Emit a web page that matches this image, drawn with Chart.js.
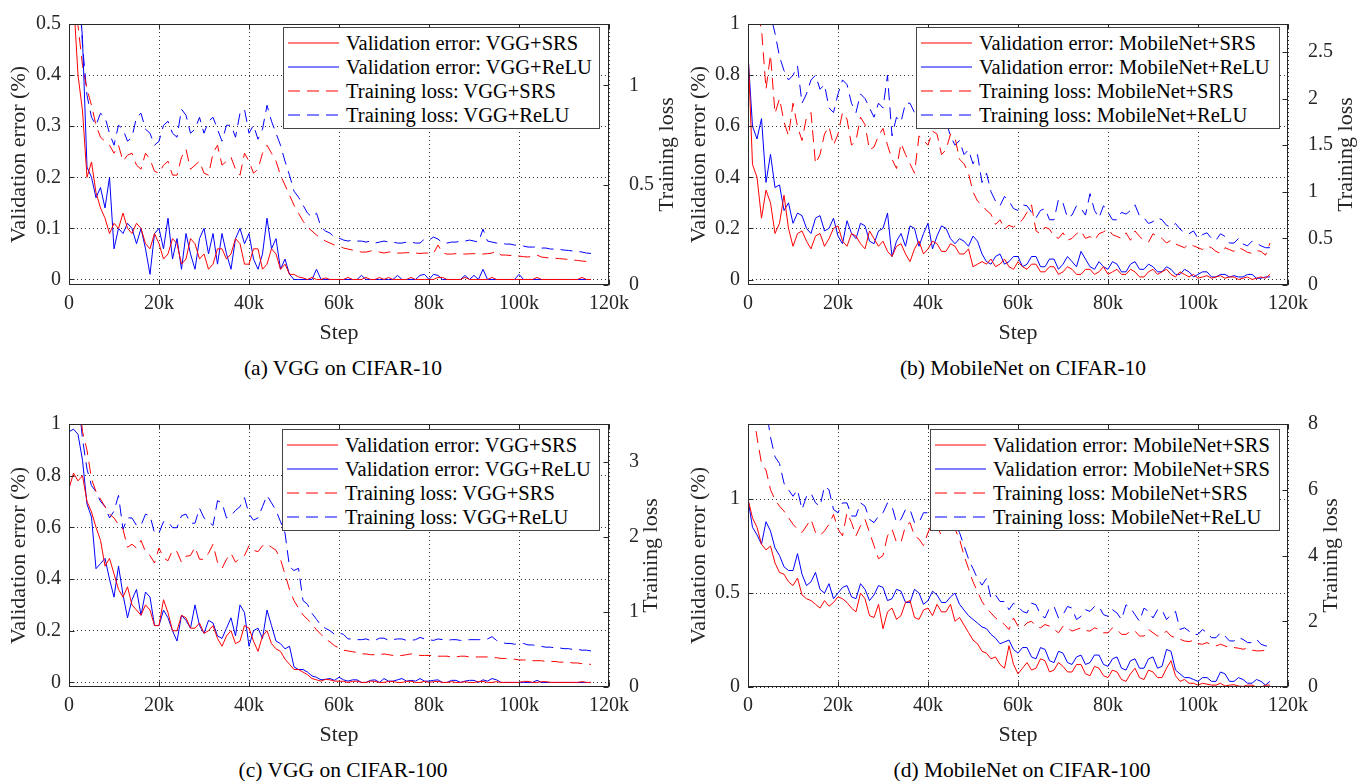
<!DOCTYPE html>
<html>
<head>
<meta charset="utf-8">
<title>Validation error and training loss: SRS vs ReLU</title>
<script src="https://cdn.jsdelivr.net/npm/chart.js@4.4.1/dist/chart.umd.min.js"></script>
<style>
  body { margin: 0; background: #fff; overflow: hidden; }
  #page { position: relative; width: 1359px; height: 781px; overflow: hidden;
          font-family: "Liberation Serif", "Times New Roman", serif; color: #000; }
  .panel { position: absolute; }
  .legend { position: absolute; background: #fff; border: 1px solid #444; box-sizing: border-box; padding-top: 3px; }
  .legend-row { height: 24px; display: flex; align-items: center; font-size: 20.5px; white-space: nowrap; }
  .legend-row svg { margin-left: 4px; margin-right: 7px; flex: none; }
  .caption { position: absolute; transform: translateX(-50%); font-size: 21.5px; line-height: 24px; white-space: nowrap; }
</style>
</head>
<body>
<div id="page">
  <canvas id="chartA" class="panel" width="680" height="350" style="left:0;top:0"></canvas>
  <canvas id="chartB" class="panel" width="679" height="350" style="left:680px;top:0"></canvas>
  <canvas id="chartC" class="panel" width="680" height="350" style="left:0;top:400px"></canvas>
  <canvas id="chartD" class="panel" width="679" height="350" style="left:680px;top:400px"></canvas>
  <div class="caption" style="left:343px;top:356px">(a) VGG on CIFAR-10</div>
  <div class="caption" style="left:1023px;top:356px">(b) MobileNet on CIFAR-10</div>
  <div class="caption" style="left:343px;top:758px">(c) VGG on CIFAR-100</div>
  <div class="caption" style="left:1022px;top:758px">(d) MobileNet on CIFAR-100</div>
</div>
<script>
// training step (thousands) shared by every curve
const steps = [
  0, 1, 2, 3, 4, 5, 6, 7, 8, 9,
  10, 11, 12, 13, 14, 15, 16, 17, 18, 19,
  20, 21, 22, 23, 24, 25, 26, 27, 28, 29,
  30, 31, 32, 33, 34, 35, 36, 37, 38, 39,
  40, 41, 42, 43, 44, 45, 46, 47, 48, 49,
  50, 51, 52, 53, 54, 55, 56, 57, 58, 59,
  60, 61, 62, 63, 64, 65, 66, 67, 68, 69,
  70, 71, 72, 73, 74, 75, 76, 77, 78, 79,
  80, 81, 82, 83, 84, 85, 86, 87, 88, 89,
  90, 91, 92, 93, 94, 95, 96, 97, 98, 99,
  100, 101, 102, 103, 104, 105, 106, 107, 108, 109,
  110, 111, 112, 113, 114, 115, 116
];
const stepTicks = [0, 20, 40, 60, 80, 100, 120];

// (a) VGG on CIFAR-10
const vggC10ValSRS = [
  0.65, 0.55, 0.40, 0.33, 0.20, 0.23, 0.17, 0.14, 0.12, 0.09,
  0.11, 0.10, 0.13, 0.10, 0.09, 0.11, 0.10, 0.07, 0.06, 0.09,
  0.07, 0.04, 0.05, 0.08, 0.07, 0.03, 0.04, 0.08, 0.07, 0.04,
  0.05, 0.02, 0.03, 0.06, 0.06, 0.04, 0.05, 0.08, 0.07, 0.03,
  0.03, 0.06, 0.06, 0.02, 0.03, 0.06, 0.05, 0.02, 0.03, 0.01,
  0.01, 0.005, 0.003, 0, 0.004, 0, 0, 0.003, 0, 0,
  0, 0, 0.004, 0, 0, 0, 0.004, 0, 0, 0.004,
  0, 0.004, 0, 0, 0, 0, 0.004, 0, 0, 0,
  0, 0, 0.004, 0.004, 0, 0, 0, 0, 0.004, 0,
  0, 0, 0, 0, 0.004, 0, 0, 0, 0, 0,
  0, 0, 0, 0, 0.004, 0, 0, 0, 0, 0,
  0, 0, 0, 0, 0.004, 0, 0
];
const vggC10ValReLU = [
  0.9, 0.75, 0.60, 0.47, 0.22, 0.20, 0.16, 0.18, 0.14, 0.20,
  0.06, 0.10, 0.09, 0.11, 0.10, 0.07, 0.10, 0.06, 0.01, 0.09,
  0.10, 0.06, 0.12, 0.04, 0.08, 0.02, 0.09, 0.05, 0.02, 0.08,
  0.10, 0.05, 0.09, 0.03, 0.09, 0.05, 0.02, 0.08, 0.10, 0.07,
  0.09, 0.04, 0.02, 0.05, 0.12, 0.06, 0.08, 0.02, 0.04, 0.01,
  0, 0, 0, 0, 0, 0.02, 0, 0, 0, 0,
  0, 0, 0, 0, 0, 0.008, 0, 0, 0, 0,
  0, 0, 0, 0.008, 0, 0, 0, 0, 0.008, 0.01,
  0, 0.01, 0.008, 0, 0, 0, 0, 0, 0.008, 0,
  0.008, 0, 0.02, 0, 0, 0, 0, 0, 0, 0,
  0.01, 0, 0, 0, 0, 0, 0, 0, 0, 0,
  0, 0, 0, 0, 0, 0, 0
];
const vggC10LossSRS = [
  2.0, 1.6, 1.3, 1.1, 0.98, 0.90, 0.80, 0.74, 0.72, 0.70,
  0.66, 0.70, 0.62, 0.65, 0.66, 0.60, 0.58, 0.66, 0.63, 0.57,
  0.56, 0.60, 0.62, 0.55, 0.55, 0.64, 0.68, 0.58, 0.60, 0.62,
  0.56, 0.55, 0.66, 0.70, 0.60, 0.62, 0.64, 0.58, 0.55, 0.66,
  0.62, 0.56, 0.58, 0.66, 0.70, 0.66, 0.62, 0.55, 0.50, 0.45,
  0.40, 0.36, 0.32, 0.29, 0.27, 0.25, 0.235, 0.22, 0.21, 0.20,
  0.195, 0.185, 0.18, 0.175, 0.17, 0.165, 0.165, 0.17, 0.17, 0.165,
  0.16, 0.165, 0.165, 0.16, 0.16, 0.162, 0.162, 0.16, 0.158, 0.16,
  0.16, 0.158, 0.20, 0.16, 0.155, 0.155, 0.157, 0.156, 0.155, 0.156,
  0.157, 0.155, 0.155, 0.157, 0.16, 0.17, 0.15, 0.15, 0.148, 0.146,
  0.145, 0.142, 0.14, 0.145, 0.15, 0.14, 0.137, 0.135, 0.134, 0.132,
  0.13, 0.128, 0.125, 0.123, 0.12, 0.118, 0.115
];
const vggC10LossReLU = [
  2.2, 1.9, 1.6, 1.2, 0.95, 0.84, 0.80, 0.86, 0.84, 0.76,
  0.70, 0.80, 0.78, 0.72, 0.74, 0.84, 0.86, 0.78, 0.76, 0.70,
  0.72, 0.80, 0.82, 0.76, 0.74, 0.88, 0.85, 0.76, 0.78, 0.84,
  0.76, 0.82, 0.84, 0.78, 0.72, 0.80, 0.80, 0.74, 0.86, 0.88,
  0.76, 0.80, 0.73, 0.78, 0.90, 0.82, 0.76, 0.70, 0.62, 0.55,
  0.47, 0.44, 0.40, 0.36, 0.34, 0.36, 0.29, 0.27, 0.26, 0.24,
  0.235, 0.225, 0.22, 0.225, 0.22, 0.22, 0.215, 0.22, 0.21, 0.215,
  0.22, 0.215, 0.215, 0.21, 0.21, 0.215, 0.215, 0.21, 0.21, 0.23,
  0.225, 0.24, 0.23, 0.21, 0.21, 0.215, 0.215, 0.22, 0.22, 0.225,
  0.22, 0.215, 0.28, 0.22, 0.215, 0.21, 0.21, 0.205, 0.205, 0.2,
  0.2, 0.195, 0.19, 0.19, 0.19, 0.185, 0.185, 0.18, 0.18, 0.178,
  0.175, 0.173, 0.17, 0.168, 0.165, 0.16, 0.158
];

// (b) MobileNet on CIFAR-10
const mbC10ValSRS = [
  0.90, 0.45, 0.40, 0.24, 0.35, 0.30, 0.18, 0.22, 0.33, 0.20,
  0.13, 0.18, 0.19, 0.15, 0.12, 0.17, 0.18, 0.13, 0.16, 0.20,
  0.21, 0.15, 0.13, 0.18, 0.17, 0.14, 0.12, 0.19, 0.16, 0.13,
  0.15, 0.11, 0.09, 0.13, 0.14, 0.10, 0.07, 0.12, 0.15, 0.10,
  0.12, 0.15, 0.14, 0.11, 0.11, 0.14, 0.13, 0.10, 0.10, 0.12,
  0.05, 0.06, 0.07, 0.06, 0.08, 0.05, 0.06, 0.08, 0.05, 0.04,
  0.07, 0.05, 0.04, 0.06, 0.06, 0.03, 0.03, 0.05, 0.05, 0.02,
  0.03, 0.05, 0.04, 0.02, 0.02, 0.04, 0.04, 0.02, 0.03, 0.05,
  0.02, 0.03, 0.04, 0.02, 0.02, 0.04, 0.03, 0.01, 0.01, 0.03,
  0.04, 0.02, 0.03, 0.04, 0.02, 0.01, 0.03, 0.02, 0.01, 0.02,
  0.005, 0.01, 0.015, 0.005, 0.01, 0.015, 0.005, 0.01, 0.01, 0,
  0.005, 0.01, 0, 0.005, 0.01, 0.005, 0.02
];
const mbC10ValReLU = [
  0.88, 0.60, 0.55, 0.63, 0.38, 0.49, 0.36, 0.37, 0.27, 0.30,
  0.22, 0.26, 0.25, 0.20, 0.18, 0.24, 0.25, 0.19, 0.20, 0.24,
  0.17, 0.14, 0.23, 0.18, 0.16, 0.22, 0.21, 0.15, 0.14, 0.19,
  0.20, 0.26, 0.09, 0.15, 0.18, 0.13, 0.21, 0.20, 0.13, 0.18,
  0.22, 0.12, 0.17, 0.21, 0.20, 0.16, 0.14, 0.16, 0.15, 0.13,
  0.17, 0.15, 0.10, 0.07, 0.06, 0.09, 0.10, 0.06, 0.07, 0.09,
  0.09, 0.05, 0.06, 0.09, 0.09, 0.05, 0.05, 0.08, 0.08, 0.04,
  0.06, 0.09, 0.07, 0.05, 0.11, 0.08, 0.05, 0.04, 0.07, 0.05,
  0.04, 0.07, 0.06, 0.03, 0.03, 0.06, 0.07, 0.04, 0.04, 0.06,
  0.05, 0.03, 0.03, 0.05, 0.04, 0.02, 0.02, 0.04, 0.03, 0.01,
  0.02, 0.03, 0.03, 0.01, 0.01, 0.02, 0.02, 0.01, 0.015, 0.01,
  0.01, 0.02, 0.02, 0.005, 0.005, 0.01, 0.01
];
const mbC10LossSRS = [
  3.5, 3.2, 2.9, 2.75, 2.1, 2.47, 1.84, 2.0, 1.75, 1.6,
  1.95, 1.7, 1.55, 1.8, 1.85, 1.3, 1.40, 1.62, 1.70, 1.50,
  1.62, 1.85, 1.78, 1.50, 1.55, 1.80, 1.72, 1.45, 1.48, 1.60,
  1.68, 1.50, 1.35, 1.25, 1.52, 1.40, 1.30, 1.20, 1.60, 1.55,
  1.50, 1.65, 1.62, 1.40, 1.45, 1.62, 1.58, 1.35, 1.30, 1.20,
  1.00, 0.90, 0.86, 0.80, 0.76, 0.65, 0.70, 0.60, 0.64, 0.62,
  0.66, 0.70, 0.78, 0.86, 0.58, 0.55, 0.62, 0.60, 0.52, 0.50,
  0.56, 0.48, 0.50, 0.55, 0.58, 0.50, 0.52, 0.48, 0.55, 0.57,
  0.60, 0.54, 0.52, 0.50, 0.56, 0.48, 0.58, 0.52, 0.48, 0.46,
  0.55, 0.52, 0.50, 0.45, 0.48, 0.44, 0.42, 0.40, 0.44, 0.42,
  0.40, 0.38, 0.42, 0.40, 0.36, 0.34, 0.40, 0.38, 0.36, 0.40,
  0.38, 0.35, 0.34, 0.37, 0.36, 0.32, 0.45
];
const mbC10LossReLU = [
  4.0, 3.8, 3.5, 3.3, 3.0, 2.9, 2.7, 2.45, 2.30, 2.20,
  2.25, 2.35, 1.95, 2.05, 2.20, 2.25, 2.10, 2.15, 1.90, 1.85,
  2.05, 2.20, 2.15, 1.95, 1.85, 2.05, 2.00, 1.90, 1.80, 1.95,
  1.90, 2.25, 1.60, 1.80, 1.75, 1.95, 1.95, 1.85, 1.80, 2.00,
  1.90, 1.80, 1.70, 1.85, 1.75, 1.60, 1.50, 1.55, 1.40, 1.45,
  1.30, 1.40, 1.10, 1.20, 1.00, 0.90, 0.85, 0.95, 0.90, 0.82,
  0.80, 0.86, 0.85, 0.78, 0.72, 0.80, 0.82, 0.70, 0.70, 0.92,
  0.88, 0.72, 0.75, 0.85, 0.82, 0.75, 0.98, 0.80, 0.72, 0.85,
  0.78, 0.70, 0.70, 0.78, 0.76, 0.80, 0.86, 0.74, 0.72, 0.66,
  0.68, 0.72, 0.70, 0.64, 0.62, 0.66, 0.60, 0.56, 0.55, 0.58,
  0.50, 0.54, 0.56, 0.50, 0.48, 0.55, 0.52, 0.45, 0.45, 0.50,
  0.44, 0.42, 0.47, 0.45, 0.42, 0.40, 0.40
];

// (c) VGG on CIFAR-100
const vggC100ValSRS = [
  0.75, 0.81, 0.78, 0.80, 0.70, 0.66, 0.60, 0.55, 0.45, 0.48,
  0.42, 0.36, 0.33, 0.37, 0.30, 0.28, 0.26, 0.30, 0.28, 0.22,
  0.22, 0.32, 0.27, 0.20, 0.20, 0.26, 0.25, 0.21, 0.21, 0.23,
  0.19, 0.20, 0.22, 0.17, 0.14, 0.18, 0.20, 0.15, 0.16, 0.22,
  0.21, 0.16, 0.12, 0.18, 0.20, 0.15, 0.13, 0.12, 0.09, 0.07,
  0.05, 0.05, 0.04, 0.03, 0.015, 0.01, 0.005, 0.012, 0.01, 0.005,
  0.005, 0.004, 0, 0.004, 0.005, 0, 0, 0.005, 0.004, 0,
  0, 0.004, 0.004, 0, 0, 0.004, 0.005, 0, 0, 0.004,
  0, 0.003, 0.004, 0, 0, 0.003, 0, 0, 0.003, 0,
  0, 0.003, 0.004, 0, 0, 0.003, 0, 0, 0, 0,
  0, 0.004, 0.004, 0, 0, 0.003, 0.003, 0, 0, 0,
  0, 0, 0, 0, 0.003, 0, 0
];
const vggC100ValReLU = [
  0.97, 0.98, 0.96, 0.86, 0.69, 0.64, 0.44, 0.46, 0.48, 0.40,
  0.33, 0.45, 0.34, 0.25, 0.32, 0.36, 0.26, 0.35, 0.33, 0.22,
  0.22, 0.28, 0.25, 0.20, 0.16, 0.26, 0.24, 0.21, 0.30, 0.22,
  0.19, 0.24, 0.23, 0.18, 0.17, 0.21, 0.25, 0.18, 0.30, 0.27,
  0.14, 0.20, 0.21, 0.17, 0.28, 0.22, 0.16, 0.15, 0.13, 0.14,
  0.06, 0.05, 0.05, 0.04, 0.025, 0.02, 0.01, 0.012, 0.015, 0.008,
  0.02, 0.01, 0.005, 0.01, 0.01, 0, 0, 0.008, 0.01, 0,
  0.015, 0.005, 0.005, 0.01, 0.015, 0.005, 0.008, 0.005, 0.015, 0.005,
  0.005, 0.008, 0.01, 0, 0, 0.008, 0.008, 0, 0.005, 0.008,
  0.008, 0, 0.01, 0.005, 0.015, 0.01, 0, 0, 0, 0,
  0, 0, 0, 0, 0.008, 0, 0, 0, 0, 0,
  0, 0, 0, 0, 0, 0, 0
];
const vggC100LossSRS = [
  5.0, 4.5, 4.0, 3.4, 3.15, 2.77, 2.6, 2.5, 2.40, 2.30,
  2.25, 2.16, 2.10, 1.86, 1.90, 1.85, 1.95, 1.80, 1.75, 1.65,
  1.85, 1.72, 1.68, 1.82, 1.80, 1.66, 1.74, 1.75, 1.86, 1.70,
  1.70, 1.78, 1.90, 1.66, 1.58, 1.70, 1.78, 1.66, 1.72, 1.75,
  1.88, 1.82, 1.80, 1.88, 1.90, 1.86, 1.82, 1.70, 1.50, 1.30,
  1.15, 1.05, 0.96, 0.90, 0.84, 0.76, 0.70, 0.64, 0.60, 0.55,
  0.52, 0.49, 0.48, 0.47, 0.46, 0.44, 0.44, 0.43, 0.43, 0.43,
  0.44, 0.43, 0.42, 0.42, 0.42, 0.43, 0.44, 0.43, 0.42, 0.42,
  0.42, 0.42, 0.41, 0.41, 0.41, 0.40, 0.40, 0.41, 0.41, 0.40,
  0.40, 0.40, 0.40, 0.40, 0.39, 0.39, 0.38, 0.38, 0.37, 0.37,
  0.36, 0.36, 0.36, 0.35, 0.35, 0.35, 0.34, 0.34, 0.34, 0.33,
  0.33, 0.33, 0.32, 0.32, 0.31, 0.31, 0.30
];
const vggC100LossReLU = [
  5.0, 4.5, 3.9, 3.3, 2.9, 2.68, 2.60, 2.47, 2.40, 2.25,
  2.34, 2.55, 2.10, 2.25, 2.25, 2.15, 2.15, 2.30, 2.28, 2.05,
  2.05, 2.20, 2.20, 2.12, 2.12, 2.28, 2.30, 2.18, 2.18, 2.38,
  2.25, 2.20, 2.15, 2.48, 2.45, 2.25, 2.28, 2.35, 2.40, 2.52,
  2.30, 2.22, 2.25, 2.40, 2.55, 2.45, 2.35, 2.20, 2.05, 1.60,
  1.55, 1.58, 1.15, 1.10, 0.98, 0.90, 0.82, 0.78, 0.75, 0.70,
  0.72, 0.70, 0.64, 0.64, 0.63, 0.63, 0.64, 0.62, 0.62, 0.65,
  0.65, 0.62, 0.63, 0.64, 0.64, 0.62, 0.62, 0.63, 0.66, 0.64,
  0.63, 0.62, 0.64, 0.63, 0.62, 0.63, 0.63, 0.62, 0.62, 0.63,
  0.63, 0.63, 0.63, 0.64, 0.67, 0.62, 0.60, 0.58, 0.58, 0.57,
  0.57, 0.58, 0.56, 0.56, 0.55, 0.54, 0.53, 0.53, 0.52, 0.52,
  0.51, 0.51, 0.50, 0.50, 0.49, 0.49, 0.48
];

// (d) MobileNet on CIFAR-100
const mbC100ValSRS = [
  1.0, 0.90, 0.85, 0.76, 0.73, 0.75, 0.66, 0.61, 0.60, 0.56,
  0.54, 0.58, 0.49, 0.47, 0.46, 0.44, 0.42, 0.46, 0.43, 0.45,
  0.48, 0.47, 0.45, 0.42, 0.40, 0.50, 0.47, 0.38, 0.37, 0.44,
  0.31, 0.40, 0.42, 0.36, 0.38, 0.45, 0.46, 0.37, 0.36, 0.41,
  0.42, 0.38, 0.44, 0.40, 0.40, 0.44, 0.35, 0.37, 0.33, 0.29,
  0.25, 0.23, 0.19, 0.18, 0.15, 0.16, 0.12, 0.10, 0.22, 0.12,
  0.07, 0.10, 0.13, 0.09, 0.10, 0.15, 0.14, 0.08, 0.09, 0.13,
  0.11, 0.08, 0.08, 0.12, 0.12, 0.07, 0.06, 0.11, 0.10, 0.06,
  0.05, 0.09, 0.08, 0.04, 0.03, 0.07, 0.10, 0.05, 0.04, 0.09,
  0.08, 0.05, 0.05, 0.10, 0.14, 0.06, 0.03, 0.04, 0.02, 0.02,
  0.01, 0.02, 0.015, 0.01, 0.01, 0.02, 0.005, 0.01, 0.012, 0.005,
  0.003, 0.01, 0.01, 0, 0, 0.01, 0.01
];
const mbC100ValReLU = [
  1.0, 0.85, 0.81, 0.76, 0.88, 0.83, 0.74, 0.70, 0.64, 0.62,
  0.62, 0.71, 0.60, 0.54, 0.56, 0.61, 0.52, 0.50, 0.55, 0.47,
  0.50, 0.53, 0.54, 0.48, 0.47, 0.55, 0.52, 0.46, 0.49, 0.54,
  0.53, 0.46, 0.47, 0.52, 0.51, 0.45, 0.45, 0.52, 0.50, 0.44,
  0.46, 0.51, 0.49, 0.45, 0.45, 0.48, 0.50, 0.44, 0.41, 0.38,
  0.36, 0.34, 0.32, 0.31, 0.28, 0.26, 0.23, 0.24, 0.25, 0.20,
  0.18, 0.21, 0.21, 0.16, 0.15, 0.21, 0.20, 0.14, 0.13, 0.19,
  0.18, 0.13, 0.12, 0.16, 0.17, 0.12, 0.13, 0.17, 0.17, 0.12,
  0.11, 0.15, 0.16, 0.10, 0.09, 0.14, 0.15, 0.10, 0.10, 0.15,
  0.16, 0.10, 0.11, 0.20, 0.19, 0.09, 0.07, 0.05, 0.05, 0.04,
  0.03, 0.05, 0.05, 0.03, 0.03, 0.08, 0.07, 0.03, 0.03, 0.05,
  0.04, 0.02, 0.02, 0.04, 0.03, 0.01, 0.03
];
const mbC100LossSRS = [
  9.5, 8.5, 7.6, 6.8, 6.6, 6.0, 5.7, 5.5, 5.35, 5.15,
  4.95, 4.80, 4.70, 4.90, 5.10, 4.70, 4.60, 4.75, 4.95, 5.25,
  4.80, 4.60, 5.30, 5.00, 4.60, 4.90, 5.10, 4.70, 4.30, 3.90,
  4.00, 4.60, 4.80, 4.40, 4.40, 4.90, 5.00, 4.60, 4.50, 4.30,
  4.70, 5.00, 4.90, 4.60, 5.00, 5.10, 4.80, 4.50, 4.00, 3.60,
  3.20, 2.90, 2.60, 2.40, 2.25, 2.10, 2.00, 1.90, 1.75, 2.10,
  1.85, 1.80, 1.95, 2.00, 1.85, 1.80, 1.90, 1.85, 1.75, 1.65,
  1.85, 1.80, 1.70, 1.75, 1.80, 1.72, 1.70, 1.80, 1.75, 1.65,
  1.65, 1.80, 1.75, 1.60, 1.60, 1.70, 1.70, 1.55, 1.55, 1.75,
  1.65, 1.55, 1.60, 1.70, 1.55, 1.50, 1.45, 1.40, 1.38, 1.42,
  1.32, 1.30, 1.35, 1.28, 1.25, 1.30, 1.25, 1.20, 1.20, 1.18,
  1.15, 1.18, 1.12, 1.10, 1.10, 1.12, 1.06
];
const mbC100LossReLU = [
  11, 10.5, 10, 9.2, 8.5, 7.6, 7.0, 6.8, 6.2, 6.0,
  5.8, 6.0, 5.4, 5.8, 5.9, 5.6, 5.5, 6.1, 6.0, 5.4,
  5.3, 5.6, 5.6, 5.2, 5.2, 5.6, 5.5, 5.1, 5.0, 5.2,
  5.3, 5.6, 5.5, 5.0, 5.1, 5.4, 5.4, 5.0, 5.0, 5.3,
  5.3, 5.1, 5.2, 5.3, 5.1, 5.0, 5.0, 4.7, 4.3, 3.9,
  3.6, 3.3, 3.1, 3.3, 2.7, 2.8, 2.6, 2.6, 2.35, 2.55,
  2.45, 2.30, 2.25, 2.55, 2.5, 2.2, 2.1, 2.4, 2.45, 2.1,
  2.2, 2.45, 2.4, 2.05, 2.15, 2.35, 2.3, 2.45, 2.45, 2.2,
  2.15, 2.35, 2.25, 2.05, 2.5, 2.4, 2.2, 2.0, 2.4, 2.3,
  2.1, 2.35, 2.35, 2.05, 2.2, 2.3, 1.75, 1.8, 1.7, 1.6,
  1.6, 1.75, 1.65, 1.5, 1.5, 1.65, 1.55, 1.4, 1.4, 1.5,
  1.45, 1.35, 1.35, 1.45, 1.3, 1.25, 1.25
];

// tick labels
const errTicksA = [0, 0.1, 0.2, 0.3, 0.4, 0.5];
const lossTicksA = [0, 0.5, 1];
const errTicksB = [0, 0.2, 0.4, 0.6, 0.8, 1];
const lossTicksB = [0, 0.5, 1, 1.5, 2, 2.5];
const errTicksC = [0, 0.2, 0.4, 0.6, 0.8, 1];
const lossTicksC = [0, 1, 2, 3];
const errTicksD = [0, 0.5, 1];
const lossTicksD = [0, 2, 4, 6, 8];

// legend labels
const vggLabels = ['Validation error: VGG+SRS', 'Validation error: VGG+ReLU',
                   'Training loss: VGG+SRS', 'Training loss: VGG+ReLU'];
const mbC10Labels = ['Validation error: MobileNet+SRS', 'Validation error: MobileNet+ReLU',
                     'Training loss: MobileNet+SRS', 'Training loss: MobileNet+ReLU'];
const mbC100Labels = ['Validation error: MobileNet+SRS', 'Validation error: MobileNet+SRS',
                      'Training loss: MobileNet+SRS', 'Training loss: MobileNet+ReLU'];

const FONT = '"Liberation Serif", "Times New Roman", serif';
const INK = '#262626';
const RED = '#ff0000';
const BLUE = '#0000ff';
const DASH = [12, 7];

const fmt = v => String(Math.round(v * 100) / 100);
const series = values => values.map((v, i) => ({ x: steps[i], y: v }));

// box + inward tick marks, drawn over the curves
const framePlugin = {
  id: 'frame',
  afterDatasetsDraw(chart) {
    const { ctx, chartArea: a, scales } = chart;
    const L = Math.round(a.left) + 0.5, R = Math.round(a.right) - 0.5;
    const T = Math.round(a.top) + 0.5, B = Math.round(a.bottom) - 0.5;
    ctx.save();
    ctx.setLineDash([]);
    ctx.strokeStyle = INK;
    ctx.lineWidth = 1;
    ctx.beginPath();
    scales.x.ticks.forEach(t => {
      const px = Math.round(scales.x.getPixelForValue(t.value)) + 0.5;
      ctx.moveTo(px, B); ctx.lineTo(px, B - 5);
      ctx.moveTo(px, T); ctx.lineTo(px, T + 5);
    });
    scales.y.ticks.forEach(t => {
      const py = Math.round(scales.y.getPixelForValue(t.value)) + 0.5;
      ctx.moveTo(L, py); ctx.lineTo(L + 5, py);
    });
    scales.y1.ticks.forEach(t => {
      const py = Math.round(scales.y1.getPixelForValue(t.value)) + 0.5;
      ctx.moveTo(R, py); ctx.lineTo(R - 5, py);
    });
    ctx.stroke();
    ctx.strokeRect(L, T, R - L, B - T);
    ctx.restore();
  }
};

// right axis title, read bottom to top like the left one
const rightTitlePlugin = {
  id: 'rightTitle',
  afterDraw(chart, args, opts) {
    const { ctx, chartArea: a } = chart;
    ctx.save();
    ctx.font = '22px ' + FONT;
    ctx.fillStyle = INK;
    ctx.textAlign = 'center';
    ctx.textBaseline = 'middle';
    ctx.translate(a.right + opts.offset, (a.top + a.bottom) / 2);
    ctx.rotate(-Math.PI / 2);
    ctx.fillText(opts.text, 0, 0);
    ctx.restore();
  }
};

function buildLegend(chart, box) {
  const el = document.createElement('div');
  el.className = 'legend';
  el.style.left = box.left + 'px';
  el.style.top = box.top + 'px';
  el.style.width = box.width + 'px';
  el.style.height = box.height + 'px';
  chart.data.datasets.forEach(ds => {
    const row = document.createElement('div');
    row.className = 'legend-row';
    const dash = ds.borderDash ? ds.borderDash.join(',') : 'none';
    row.innerHTML = '<svg width="51" height="4"><line x1="0" y1="2" x2="51" y2="2" stroke="' + ds.borderColor +
      '" stroke-width="1.2" stroke-dasharray="' + dash + '"/></svg><span>' + ds.label + '</span>';
    el.appendChild(row);
  });
  document.getElementById('page').appendChild(el);
}

function makePanel(p) {
  const sets = [
    { label: p.labels[0], data: series(p.valSRS), borderColor: RED, yAxisID: 'y' },
    { label: p.labels[1], data: series(p.valReLU), borderColor: BLUE, yAxisID: 'y' },
    { label: p.labels[2], data: series(p.lossSRS), borderColor: RED, borderDash: DASH, yAxisID: 'y1' },
    { label: p.labels[3], data: series(p.lossReLU), borderColor: BLUE, borderDash: DASH, yAxisID: 'y1' }
  ].map(d => Object.assign(d, { borderWidth: 1, pointRadius: 0, tension: 0, fill: false }));

  const tickFont = { family: FONT, size: 20 };
  const titleFont = { family: FONT, size: 22 };

  const chart = new Chart(document.getElementById(p.canvas), {
    type: 'line',
    data: { datasets: sets },
    options: {
      responsive: false,
      animation: false,
      devicePixelRatio: 1,
      layout: { padding: { top: p.padTop, left: 0, right: 0, bottom: 0 } },
      plugins: {
        legend: { display: false },
        tooltip: { enabled: false },
        rightTitle: { text: 'Training loss', offset: p.rightTitleOffset }
      },
      scales: {
        x: {
          type: 'linear', min: 0, max: 120,
          afterBuildTicks: s => { s.ticks = stepTicks.map(v => ({ value: v })); },
          afterFit: s => { s.height = p.xHeight; },
          ticks: { padding: 7, color: INK, font: tickFont, maxRotation: 0, autoSkip: false,
                   callback: v => v === 0 ? '0' : v + 'k' },
          grid: { color: 'rgba(0,0,0,0.8)', lineWidth: 1, drawTicks: false },
          border: { display: false, dash: [1, 3] },
          title: { display: true, text: 'Step', color: INK, font: titleFont,
                   padding: { top: 0, bottom: p.stepPad } }
        },
        y: {
          position: 'left', min: p.errMin, max: p.errMax,
          afterBuildTicks: s => { s.ticks = p.errTicks.map(v => ({ value: v })); },
          afterFit: s => { s.width = p.yWidth; },
          ticks: { padding: 8, color: INK, font: tickFont, callback: fmt },
          grid: { color: 'rgba(0,0,0,0.8)', lineWidth: 1, drawTicks: false },
          border: { display: false, dash: [1, 3] },
          title: { display: true, text: 'Validation error (%)', color: INK, font: titleFont,
                   padding: { top: 6, bottom: 0 } }
        },
        y1: {
          position: 'right', min: 0, max: p.lossMax,
          afterBuildTicks: s => { s.ticks = p.lossTicks.map(v => ({ value: v })); },
          afterFit: s => { s.width = p.y1Width; },
          ticks: { padding: 12, color: INK, font: tickFont, callback: fmt },
          grid: { display: false },
          border: { display: false }
        }
      }
    },
    plugins: [framePlugin, rightTitlePlugin]
  });
  buildLegend(chart, p.legend);
}

makePanel({
  canvas: 'chartA', labels: vggLabels,
  valSRS: vggC10ValSRS, valReLU: vggC10ValReLU, lossSRS: vggC10LossSRS, lossReLU: vggC10LossReLU,
  errMin: -0.0108, errMax: 0.5, errTicks: errTicksA, lossMax: 1.307, lossTicks: lossTicksA,
  padTop: 15, xHeight: 65, yWidth: 69, y1Width: 71, stepPad: 4, rightTitleOffset: 58,
  legend: { left: 283, top: 27, width: 317, height: 102 }
});
makePanel({
  canvas: 'chartB', labels: mbC10Labels,
  valSRS: mbC10ValSRS, valReLU: mbC10ValReLU, lossSRS: mbC10LossSRS, lossReLU: mbC10LossReLU,
  errMin: -0.0215, errMax: 1, errTicks: errTicksB, lossMax: 2.8, lossTicks: lossTicksB,
  padTop: 15, xHeight: 65, yWidth: 68, y1Width: 71, stepPad: 4, rightTitleOffset: 58,
  legend: { left: 916, top: 27, width: 364, height: 102 }
});
makePanel({
  canvas: 'chartC', labels: vggLabels,
  valSRS: vggC100ValSRS, valReLU: vggC100ValReLU, lossSRS: vggC100LossSRS, lossReLU: vggC100LossReLU,
  errMin: -0.0177, errMax: 1, errTicks: errTicksC, lossMax: 3.5, lossTicks: lossTicksC,
  padTop: 17, xHeight: 63, yWidth: 69, y1Width: 71, stepPad: 2, rightTitleOffset: 42,
  legend: { left: 282, top: 429, width: 318, height: 102 }
});
makePanel({
  canvas: 'chartD', labels: mbC100Labels,
  valSRS: mbC100ValSRS, valReLU: mbC100ValReLU, lossSRS: mbC100LossSRS, lossReLU: mbC100LossReLU,
  errMin: 0, errMax: 1.4, errTicks: errTicksD, lossMax: 8, lossTicks: lossTicksD,
  padTop: 17, xHeight: 63, yWidth: 68, y1Width: 71, stepPad: 2, rightTitleOffset: 43,
  legend: { left: 930, top: 429, width: 350, height: 102 }
});
</script>
</body>
</html>
